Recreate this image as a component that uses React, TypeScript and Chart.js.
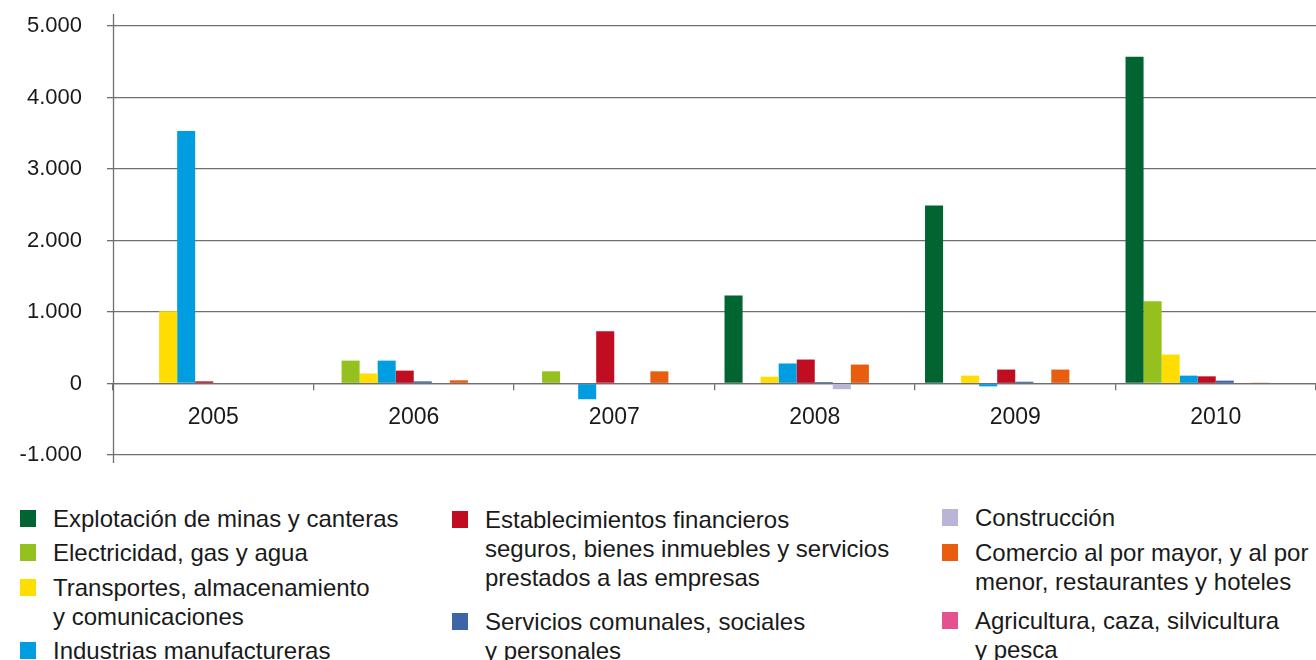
import React, { useEffect, useRef } from "react";
import { Chart, registerables } from "chart.js";

Chart.register(...registerables);

// ---------- DATA ----------
const years = ["2005", "2006", "2007", "2008", "2009", "2010"];

const explotacion = [null, null, null, 1230, 2490, 4570];
const electricidad = [null, 320, 170, null, null, 1150];
const transportes = [1010, 140, null, 95, 110, 405];
const industrias = [3530, 320, -220, 280, -40, 110];
const establecimientos = [30, 180, 730, 335, 195, 100];
const servicios = [null, 30, null, 20, 25, 40];
const construccion = [null, null, null, -80, null, 10];
const comercio = [null, 45, 170, 265, 195, 12];
const agricultura = [null, null, null, null, null, null];
// empty tenth slot of the original chart (no legend entry)
const emptySlot = [null, null, null, null, null, null];

const yTicks = [-1000, 0, 1000, 2000, 3000, 4000, 5000];

const seriesLabels = [
  "Explotación de minas y canteras",
  "Electricidad, gas y agua",
  "Transportes, almacenamiento y comunicaciones",
  "Industrias manufactureras",
  "Establecimientos financieros seguros, bienes inmuebles y servicios prestados a las empresas",
  "Servicios comunales, sociales y personales",
  "Construcción",
  "Comercio al por mayor, y al por menor, restaurantes y hoteles",
  "Agricultura, caza, silvicultura y pesca",
];

const seriesColors = [
  "#006530",
  "#95C11F",
  "#FFDD00",
  "#009EE0",
  "#C00D22",
  "#3C64A8",
  "#B9B4D8",
  "#E95D0F",
  "#E5508F",
];

// legend lines (manual line breaks as in the original)
const legendLines: string[][] = [
  ["Explotación de minas y canteras"],
  ["Electricidad, gas y agua"],
  ["Transportes, almacenamiento", "y comunicaciones"],
  ["Industrias manufactureras"],
  ["Establecimientos financieros", "seguros, bienes inmuebles y servicios", "prestados a las empresas"],
  ["Servicios comunales, sociales", "y personales"],
  ["Construcción"],
  ["Comercio al por mayor, y al por", "menor, restaurantes y hoteles"],
  ["Agricultura, caza, silvicultura", "y pesca"],
];

// ---------- LAYOUT ----------
const FONT = "'Liberation Sans', Arial, Helvetica, sans-serif";
const GRID = "#6f6f6f";
const TEXT = "#1a1a1a";
const W = 1316;
const CHART_H = 480;

const legendColumns = [
  { x: 20, items: [0, 1, 2, 3], tops: [504, 538, 573, 636] },
  { x: 452, items: [4, 5], tops: [505, 607] },
  { x: 942, items: [6, 7, 8], tops: [503, 538, 606] },
];

const fmt = (v: number) => {
  const s = Math.abs(v).toString().replace(/\B(?=(\d{3})+(?!\d))/g, ".");
  return (v < 0 ? "-" : "") + s;
};

const axisLinePlugin = {
  id: "axisLine",
  afterDraw(chart: any) {
    const { ctx, chartArea } = chart;
    ctx.save();
    ctx.strokeStyle = GRID;
    ctx.lineWidth = 1.3;
    const x = Math.round(chartArea.left) + 0.5;
    ctx.beginPath();
    ctx.moveTo(x, chartArea.top - 12);
    ctx.lineTo(x, chartArea.bottom + 8);
    ctx.stroke();
    ctx.restore();
  },
};

export default function App() {
  const ref = useRef<HTMLCanvasElement | null>(null);

  useEffect(() => {
    if (!ref.current) return;
    const allSeries = [
      explotacion,
      electricidad,
      transportes,
      industrias,
      establecimientos,
      servicios,
      construccion,
      comercio,
      agricultura,
    ];
    const datasets: any[] = allSeries.map((d, i) => ({
      label: seriesLabels[i],
      data: d,
      backgroundColor: seriesColors[i],
      borderWidth: 0,
      categoryPercentage: 0.9,
      barPercentage: 1.0,
    }));
    datasets.push({
      label: "",
      data: emptySlot,
      backgroundColor: "rgba(0,0,0,0)",
      borderWidth: 0,
      categoryPercentage: 0.9,
      barPercentage: 1.0,
    });

    const chart = new Chart(ref.current, {
      type: "bar",
      data: { labels: years, datasets },
      plugins: [axisLinePlugin],
      options: {
        animation: false,
        responsive: false,
        maintainAspectRatio: false,
        layout: { padding: { top: 26, right: 0, left: 0, bottom: 25 } },
        plugins: {
          legend: { display: false },
          tooltip: { enabled: false },
        },
        scales: {
          x: {
            type: "category",
            position: { y: 0 } as any,
            z: 1,
            afterFit: (scale: any) => {
              scale.height = 0;
              scale.paddingTop = 0;
              scale.paddingBottom = 0;
            },
            grid: {
              offset: true,
              drawOnChartArea: false,
              drawTicks: true,
              tickLength: 6,
              color: GRID,
              lineWidth: 1.3,
            },
            border: { display: true, color: GRID, width: 1.3 },
            ticks: {
              color: TEXT,
              font: { family: FONT, size: 23 },
              padding: 14,
              maxRotation: 0,
            },
          },
          y: {
            min: -1000,
            max: 5000,
            z: 1,
            afterFit: (scale: any) => {
              scale.width = 113;
              scale.paddingTop = 12;
              scale.paddingBottom = 12;
            },
            afterBuildTicks: (scale: any) => {
              scale.ticks = yTicks.map((v) => ({ value: v }));
            },
            grid: {
              color: GRID,
              lineWidth: 1.3,
              tickLength: 6,
              drawTicks: true,
            },
            border: { display: false },
            ticks: {
              color: TEXT,
              font: { family: FONT, size: 22 },
              padding: 25,
              callback: (v: any) => fmt(Number(v)),
            },
          },
        },
      },
    });
    return () => chart.destroy();
  }, []);

  return (
    <div
      style={{
        position: "absolute",
        left: 0,
        top: 0,
        width: W,
        height: 660,
        background: "#fff",
        fontFamily: FONT,
        color: TEXT,
        overflow: "hidden",
      }}
    >
      <canvas
        ref={ref}
        width={W}
        height={CHART_H}
        style={{ display: "block", position: "absolute", left: 0, top: 0, width: W, height: CHART_H }}
      />
      {legendColumns.map((col, ci) =>
        col.items.map((idx, k) => (
          <div
            key={ci + "-" + k}
            style={{ position: "absolute", left: col.x, top: col.tops[k], display: "flex", alignItems: "flex-start" }}
          >
            <div
              style={{
                width: 16,
                height: 17,
                marginTop: 6,
                background: seriesColors[idx],
                flex: "none",
              }}
            />
            <div style={{ marginLeft: 17, fontSize: 24, lineHeight: "29px", whiteSpace: "nowrap" }}>
              {legendLines[idx].map((ln, j) => (
                <div key={j}>{ln}</div>
              ))}
            </div>
          </div>
        ))
      )}
    </div>
  );
}
